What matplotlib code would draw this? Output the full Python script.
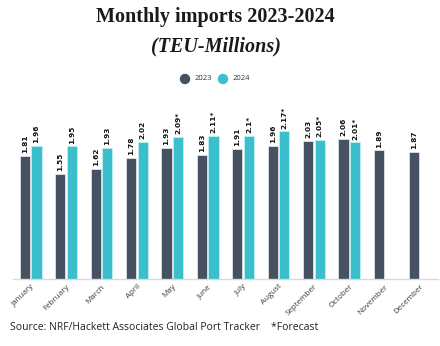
import matplotlib
matplotlib.use("Agg")
import matplotlib.pyplot as plt
import numpy as np

months = ["January", "February", "March", "April", "May", "June", "July",
          "August", "September", "October", "November", "December"]
imports_2023 = [1.81, 1.55, 1.62, 1.78, 1.93, 1.83, 1.91, 1.96, 2.03, 2.06, 1.89, 1.87]
imports_2024 = [1.96, 1.95, 1.93, 2.02, 2.09, 2.11, 2.10, 2.17, 2.05, 2.01]
labels_2023 = ["1.81", "1.55", "1.62", "1.78", "1.93", "1.83", "1.91", "1.96", "2.03", "2.06", "1.89", "1.87"]
labels_2024 = ["1.96", "1.95", "1.93", "2.02", "2.09*", "2.11*", "2.1*", "2.17*", "2.05*", "2.01*"]

c2023 = "#465261"
c2024 = "#3bbfcc"

fig = plt.figure(figsize=(4.4, 3.46), dpi=100)
ax = fig.add_axes([0.0295, 0.1936, 0.9655, 0.4914])

x = np.arange(len(months))
w = 0.29
off = 0.165
b1 = ax.bar(x - off, imports_2023, width=w, color=c2023, edgecolor="#dfe3e8", linewidth=0.6, zorder=2)
b2 = ax.bar(x[:len(imports_2024)] + off, imports_2024, width=w, color=c2024, edgecolor="#bfeff3", linewidth=0.6, zorder=2)

for bars, labs in ((b1, labels_2023), (b2, labels_2024)):
    for r, t in zip(bars, labs):
        ax.text(r.get_x() + r.get_width() / 2, r.get_height() + 0.04, t,
                rotation=90, ha="center", va="bottom", fontsize=5.3,
                fontweight="bold", color="#111111", clip_on=False,
                family="DejaVu Sans")

ax.set_xlim(-0.5, 11.5)
ax.set_ylim(0, 2.5)
for s in ("top", "right", "left"):
    ax.spines[s].set_visible(False)
ax.spines["bottom"].set_color("#d9d9d9")
ax.spines["bottom"].set_linewidth(1.0)
ax.set_yticks([])
ax.set_xticks(x)
ax.set_xticklabels(months, rotation=45, ha="right", rotation_mode="anchor",
                   fontsize=5.8, color="#3a3a3a", family="Open Sans")
ax.tick_params(axis="x", length=0, pad=3)

fig.text(0.49, 0.952, "Monthly imports 2023-2024", ha="center", va="center",
         fontsize=14.5, fontweight="bold", family="Liberation Serif", color="#1a1a1a")
fig.text(0.49, 0.866, "(TEU-Millions)", ha="center", va="center",
         fontsize=14.5, fontweight="bold", style="italic", family="Liberation Serif", color="#1a1a1a")

# legend
ly = 1 - 79 / 346
fig.patches.append(matplotlib.patches.Ellipse((185 / 440, ly), 9 / 440, 9 / 346,
                   transform=fig.transFigure, color=c2023))
fig.text(195 / 440, ly, "2023", ha="left", va="center", fontsize=5.5, color="#333333", family="Open Sans")
fig.patches.append(matplotlib.patches.Ellipse((223 / 440, ly), 9 / 440, 9 / 346,
                   transform=fig.transFigure, color=c2024))
fig.text(233 / 440, ly, "2024", ha="left", va="center", fontsize=5.5, color="#333333", family="Open Sans")

fig.text(10 / 440, 1 - 327 / 346, "Source: NRF/Hackett Associates Global Port Tracker    *Forecast",
         ha="left", va="center", fontsize=7.5, color="#222222", family="Open Sans")

fig.savefig("out.png", dpi=100)
